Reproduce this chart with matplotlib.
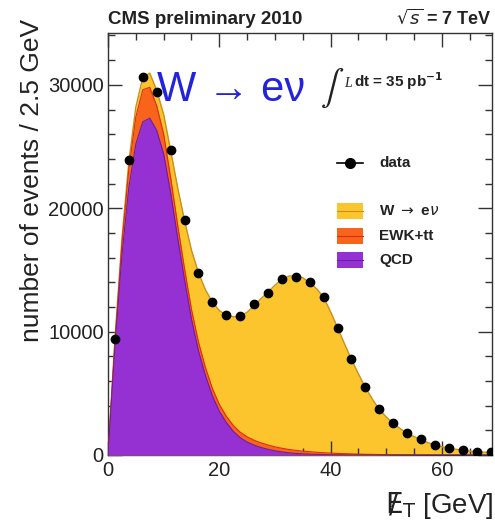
import numpy as np
import matplotlib
matplotlib.use("Agg")
import matplotlib.pyplot as plt
from matplotlib.patches import Rectangle
from matplotlib.lines import Line2D

plt.rcParams['font.family'] = ['Liberation Sans', 'DejaVu Sans']

# ---- data ----
# MC curves sampled every 1.25 GeV from 0 to 70 GeV
x_grid = np.arange(0, 70.01, 1.25)
qcd = [0, 8800, 16200, 21700, 25200, 27000, 27300, 26300, 24400, 21250,
       17650, 14200, 11000, 8450, 6450, 4800, 3550, 2640, 1920, 1400,
       1050, 800, 610, 460, 340, 250, 180, 130, 95, 70,
       50, 35, 25, 18, 12, 8, 5, 3, 2, 1,
       0, 0, 0, 0, 0, 0, 0, 0, 0, 0,
       0, 0, 0, 0, 0, 0, 0]
ewk = [0, 400, 900, 1500, 2200, 2600, 2500, 2000, 1600, 1250,
       1050, 900, 800, 720, 650, 600, 550, 510, 480, 450,
       420, 395, 370, 345, 320, 295, 270, 245, 220, 195,
       170, 150, 130, 110, 95, 80, 70, 55, 45, 35,
       30, 25, 20, 16, 12, 10, 8, 6, 5, 4,
       3, 3, 2, 2, 1, 1, 1]
wenu = [0, 200, 400, 600, 800, 1000, 1150, 1250, 1600, 2200,
        3000, 3900, 4800, 5600, 6300, 7000, 7600, 8200, 8800, 9400,
        10100, 10900, 11700, 12400, 13100, 13700, 14050, 14150, 14050, 13700,
        13250, 12600, 11450, 10200, 8900, 7650, 6500, 5420, 4480, 3650,
        3050, 2530, 2120, 1740, 1480, 1230, 990, 810, 660, 540,
        460, 390, 320, 270, 230, 200, 180]

# data points at bin centres (2.5 GeV bins)
data_x = np.arange(1.25, 70, 2.5)
data_y = [9400, 23900, 30600, 29400, 24700, 19030, 14780, 12360, 11360, 11230,
          12200, 13090, 14280, 14440, 14030, 12820, 10270, 7770, 5480, 3700,
          2570, 1760, 1270, 810, 540, 400, 270, 220]

x_ticks = [0, 20, 40, 60]
y_ticks = [0, 10000, 20000, 30000]

c_w, c_ewk, c_qcd = '#fcc52d', '#f8641c', '#9531d3'
e_w, e_ewk, e_qcd = '#c8901c', '#e02a10', '#6a1fa0'

W, H = 495, 521
fig = plt.figure(figsize=(W / 100, H / 100), dpi=100)
ax = fig.add_axes([108 / W, 1 - 455 / H, (492 - 108) / W, (455 - 33) / H])

qcd = np.array(qcd, float)
ewk = np.array(ewk, float)
wenu = np.array(wenu, float)
s1 = qcd
s2 = qcd + ewk
s3 = qcd + ewk + wenu

ax.fill_between(x_grid, 0, s3, color=c_w, lw=0, zorder=1)
ax.plot(x_grid, s3, color=e_w, lw=1.0, zorder=2)
ax.fill_between(x_grid, 0, s2, color=c_ewk, lw=0, zorder=3)
ax.plot(x_grid, s2, color=e_ewk, lw=0.8, zorder=4)
ax.fill_between(x_grid, 0, s1, color=c_qcd, lw=0, zorder=5)
ax.plot(x_grid, s1, color=e_qcd, lw=0.8, zorder=6)

ax.plot(data_x, data_y, 'o', color='black', ms=6, zorder=10)

ax.set_xlim(0, 69)
ax.set_ylim(0, 34200)
ax.set_xticks(x_ticks)
ax.set_yticks(y_ticks)
ax.set_xticks(np.arange(0, 70, 5), minor=True)
ax.set_yticks(np.arange(0, 34200, 2000), minor=True)
ax.tick_params(which='both', direction='in', top=True, right=True, colors='#333333',
               labelsize=14.5, labelcolor='#222222')
ax.tick_params(which='major', length=10, width=1)
ax.tick_params(which='minor', length=5, width=1)
ax.tick_params(axis='x', pad=4)
ax.tick_params(axis='y', pad=3)
for sp in ax.spines.values():
    sp.set_color('#333333')
    sp.set_linewidth(1.0)


def P(x, y):
    return (x / W, 1 - y / H)


# titles
fig.text(*P(108, 24), 'CMS preliminary 2010', fontsize=13.5, fontweight='bold',
         ha='left', va='baseline', color='#222222')
fig.text(*P(492, 24), r'$\sqrt{s}$ = 7 TeV', fontsize=13, fontweight='bold',
         ha='right', va='baseline', color='#222222')

# big label
fig.text(*P(157, 101), 'W → eν', fontsize=30, color='#2323dc', ha='left', va='baseline')
fig.text(*P(320, 97), r'$\int$', fontsize=25, color='#222222', ha='left', va='baseline',
         math_fontfamily='stix')
fig.text(*P(344, 87), 'L', fontsize=10, family='Liberation Serif', style='italic',
         color='#222222', ha='left', va='baseline')
fig.text(*P(354, 87), r'dt = 35 pb$^{\mathbf{-1}}$', fontsize=11, fontweight='bold',
         color='#222222', ha='left', va='baseline')

# axis labels
fig.text(*P(32, 180), 'number of events / 2.5 GeV', fontsize=19, rotation=90,
         ha='center', va='center', color='#222222')
fig.text(*P(493, 513), r'$/\!\!\!\mathrm{E}_{\mathrm{T}}$ [GeV]', fontsize=20,
         ha='right', va='baseline', color='#222222')

# legend (drawn manually)
fig.add_artist(Line2D([337 / W, 363 / W], [1 - 163 / H] * 2, color='black', lw=1.2))
fig.add_artist(Line2D([350 / W], [1 - 163 / H], marker='o', color='black', ms=7))
fig.text(*P(379, 163), 'data', fontsize=11, fontweight='bold', ha='left', va='center',
         color='#222222')

boxes = [(203, c_w, e_w, r'W $\rightarrow$ e$\nu$'),
         (228, c_ewk, e_ewk, 'EWK+tt'),
         (252, c_qcd, e_qcd, 'QCD')]
for top, fc, ec, lab in boxes:
    x0, y0 = P(337, top + 16)
    fig.add_artist(Rectangle((x0, y0), 26 / W, 16 / H, transform=fig.transFigure,
                             facecolor=fc, edgecolor='none'))
    fig.add_artist(Line2D([337 / W, 363 / W], [1 - (top + 8) / H] * 2, color=ec, lw=0.8))
    fig.text(*P(379, top + 8), lab, fontsize=11, fontweight='bold', ha='left',
             va='center', color='#222222')

fig.savefig('out.png', dpi=100)
